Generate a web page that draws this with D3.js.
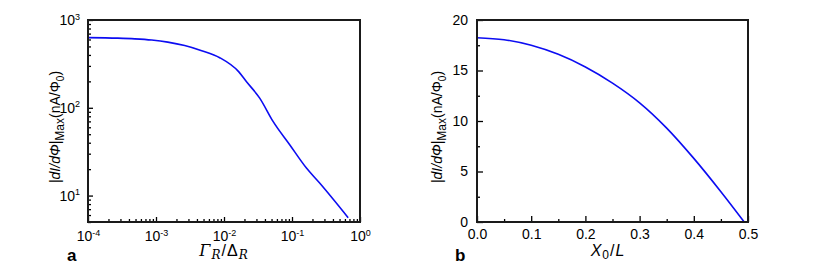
<!DOCTYPE html>
<html lang="en">
<head>
<meta charset="UTF-8">
<title>dI/dPhi max</title>
<style>
    body { margin: 0; background: #fff; }
    svg text { font-family: "Liberation Sans", Arial, sans-serif; fill: #000; }
    .axis path { display: none; }
    .axis line { stroke: #000; stroke-width: 1.3; }
    .axis text { font-size: 14px; }
    .frame { fill: none; stroke: #1a1a1a; stroke-width: 2; }
    .curve { fill: none; stroke: #0c0cf2; stroke-width: 1.6; }
</style>
</head>
<body>
<script src="https://cdn.jsdelivr.net/npm/d3@7"></script>
<script>
    // panel a data: Gamma_R / Delta_R  vs |dI/dPhi|max
    var gammaRatio = [1e-4, 2.74e-4, 4.87e-4, 8.65e-4, 1.49e-3, 2.64e-3, 4.7e-3, 8.65e-3, 0.0164,
                      0.0213, 0.0335, 0.0526, 0.0925, 0.163, 0.255, 0.67]
    var dIdPhiA = [630, 621, 610, 591, 560, 512, 447, 372, 258,
                   199, 129, 70, 38, 20.6, 13.9, 5.6]
    // panel b data: X0 / L  vs |dI/dPhi|max
    var x0L = [0, 0.05, 0.1, 0.15, 0.2, 0.25, 0.3, 0.35, 0.4, 0.45, 0.493]
    var dIdPhiB = [18.25, 18.05, 17.5, 16.6, 15.35, 13.75, 11.8, 9.3, 6.3, 3.0, 0]

    var xTicksA = [1e-4, 1e-3, 1e-2, 1e-1, 1]
    var yTicksA = [10, 100, 1000]
    var xTicksB = [0, 0.1, 0.2, 0.3, 0.4, 0.5]
    var yTicksB = [0, 5, 10, 15, 20]

    var width = 830, height = 267
    var svg = d3.select('body').append('svg')
        .attr('width', width)
        .attr('height', height)

    var plotTop = 20, plotBottom = 222

    function minorLog(lo, hi) {
        var out = []
        for (var e = Math.floor(Math.log10(lo)); e <= Math.ceil(Math.log10(hi)); e++) {
            for (var m = 2; m <= 9; m++) {
                var v = m * Math.pow(10, e)
                if (v >= lo && v <= hi) out.push(v)
            }
        }
        return out
    }

    // "10" with a raised exponent
    function powLabel(sel) {
        sel.each(function (d) {
            var t = d3.select(this).text('')
            t.append('tspan').text('10')
            t.append('tspan').attr('dy', '-0.6em').attr('font-size', '9px')
                .text(Math.round(Math.log10(d)))
        })
    }

    function yTitle(g, cx, cy) {
        var t = g.append('text')
            .attr('transform', 'translate(' + cx + ',' + cy + ') rotate(-90)')
            .attr('text-anchor', 'middle')
            .attr('font-size', '14px')
        t.append('tspan').text('|')
        t.append('tspan').attr('font-style', 'italic').text('dI/d\u03A6')
        t.append('tspan').text('|')
        t.append('tspan').attr('dy', 4).attr('font-size', '12px').text('Max')
        t.append('tspan').attr('dy', -4).text('(nA/\u03A6')
        t.append('tspan').attr('dy', 4).attr('font-size', '10px').text('0')
        t.append('tspan').attr('dy', -4).text(')')
    }

    // ---------- panel a ----------
    var xA = d3.scaleLog().domain([1e-4, 1]).range([88, 360])
    var yA = d3.scaleLog().domain([5, 1000]).range([plotBottom, plotTop])
    var gA = svg.append('g')

    gA.append('g').attr('class', 'axis')
        .attr('transform', 'translate(0,' + plotBottom + ')')
        .call(d3.axisBottom(xA).tickValues(minorLog(1e-4, 1)).tickSize(-3).tickFormat(''))
    gA.append('g').attr('class', 'axis')
        .attr('transform', 'translate(0,' + plotBottom + ')')
        .call(d3.axisBottom(xA).tickValues(xTicksA).tickSize(-5).tickPadding(9))
        .selectAll('text').call(powLabel)
    gA.append('g').attr('class', 'axis')
        .attr('transform', 'translate(88,0)')
        .call(d3.axisLeft(yA).tickValues(minorLog(5, 1000)).tickSize(-3).tickFormat(''))
    gA.append('g').attr('class', 'axis')
        .attr('transform', 'translate(88,0)')
        .call(d3.axisLeft(yA).tickValues(yTicksA).tickSize(-5).tickPadding(8))
        .selectAll('text').call(powLabel)

    var lineA = d3.line()
        .x(function (d, i) { return xA(gammaRatio[i]) })
        .y(function (d) { return yA(d) })
        .curve(d3.curveMonotoneX)
    gA.append('path').attr('class', 'curve').attr('d', lineA(dIdPhiA))
    gA.append('rect').attr('class', 'frame')
        .attr('x', 88).attr('y', plotTop).attr('width', 360 - 88).attr('height', plotBottom - plotTop)

    yTitle(gA, 60, 127)
    var xtA = gA.append('text').attr('x', 224).attr('y', 256)
        .attr('text-anchor', 'middle').attr('font-size', '16px').attr('letter-spacing', '1px')
    xtA.append('tspan').attr('font-style', 'italic').attr('font-family', 'DejaVu Serif').text('\u0393')
    xtA.append('tspan').attr('dy', 3).attr('font-size', '12px').attr('font-style', 'italic')
        .attr('font-family', 'DejaVu Serif').text('R')
    xtA.append('tspan').attr('dy', -3).text('/\u0394')
    xtA.append('tspan').attr('dy', 3).attr('font-size', '12px').attr('font-style', 'italic')
        .attr('font-family', 'DejaVu Serif').text('R')
    gA.append('text').attr('x', 67).attr('y', 261)
        .attr('font-size', '17px').attr('font-weight', 'bold').text('a')

    // ---------- panel b ----------
    var xB = d3.scaleLinear().domain([0, 0.5]).range([477, 748])
    var yB = d3.scaleLinear().domain([0, 20]).range([plotBottom, plotTop])
    var gB = svg.append('g')

    gB.append('g').attr('class', 'axis')
        .attr('transform', 'translate(0,' + plotBottom + ')')
        .call(d3.axisBottom(xB).tickValues(d3.range(0.05, 0.5, 0.1)).tickSize(-3).tickFormat(''))
    gB.append('g').attr('class', 'axis')
        .attr('transform', 'translate(0,' + plotBottom + ')')
        .call(d3.axisBottom(xB).tickValues(xTicksB).tickSize(-6).tickPadding(7).tickFormat(d3.format('.1f')))
    gB.append('g').attr('class', 'axis')
        .attr('transform', 'translate(477,0)')
        .call(d3.axisLeft(yB).tickValues(d3.range(2.5, 20, 5)).tickSize(-3).tickFormat(''))
    gB.append('g').attr('class', 'axis')
        .attr('transform', 'translate(477,0)')
        .call(d3.axisLeft(yB).tickValues(yTicksB).tickSize(-6).tickPadding(9))

    var lineB = d3.line()
        .x(function (d, i) { return xB(x0L[i]) })
        .y(function (d) { return yB(d) })
        .curve(d3.curveCatmullRom.alpha(0.5))
    gB.append('path').attr('class', 'curve').attr('d', lineB(dIdPhiB))
    gB.append('rect').attr('class', 'frame')
        .attr('x', 477).attr('y', plotTop).attr('width', 748 - 477).attr('height', plotBottom - plotTop)

    yTitle(gB, 442, 127)
    var xtB = gB.append('text').attr('x', 608).attr('y', 256)
        .attr('text-anchor', 'middle').attr('font-size', '16px').attr('letter-spacing', '1px')
    xtB.append('tspan').attr('font-style', 'italic').text('X')
    xtB.append('tspan').attr('dy', 3).attr('font-size', '12px').text('0')
    xtB.append('tspan').attr('dy', -3).text('/')
    xtB.append('tspan').attr('font-style', 'italic').text('L')
    gB.append('text').attr('x', 455).attr('y', 261)
        .attr('font-size', '17px').attr('font-weight', 'bold').text('b')
</script>
</body>
</html>
